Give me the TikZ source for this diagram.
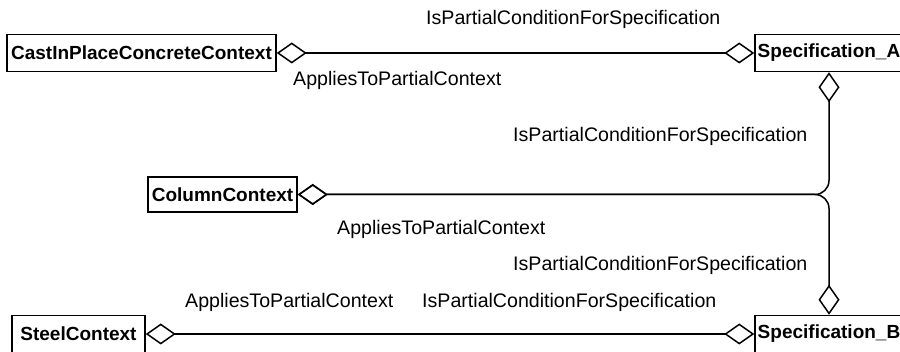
\documentclass[tikz,border=0pt]{standalone}
\usepackage{fontspec}
\setmainfont{Liberation Sans}
\usetikzlibrary{arrows.meta}

\tikzset{
  cls/.style={draw, line width=1.5pt, inner sep=0pt, minimum height=37pt,
    font=\fontsize{19}{23}\selectfont\bfseries},
  role/.style={anchor=base west, inner sep=0pt, font=\fontsize{19.6}{23}\selectfont},
  assoc/.style={draw, line width=1.5pt,
    {Diamond[open,length=30pt,width=21pt]}-{Diamond[open,length=30pt,width=21pt]}}
}

\begin{document}
\begin{tikzpicture}[x=1pt, y=-1pt]
\useasboundingbox (0,0) rectangle (900,352);

\node[cls, minimum width=269pt] (A) at (141.5,53) {CastInPlaceConcreteContext};
\node[cls, minimum width=148pt] (B) at (829,53) {Specification\_A};
\node[cls, minimum width=149pt, minimum height=35pt] (C) at (222.5,194.5) {ColumnContext};
\node[cls, minimum width=133pt] (D) at (78.5,334) {SteelContext};
\node[cls, minimum width=148pt, below of=B, node distance=281pt] (E) {Specification\_B};

\node[role] (F) at (426,25)  {IsPartialConditionForSpecification};
\node[role] (G) at (293,86)  {AppliesToPartialContext};
\node[role] (H) at (513,142) {IsPartialConditionForSpecification};
\node[role] (I) at (337,235) {AppliesToPartialContext};
\node[role] (J) at (513,271) {IsPartialConditionForSpecification};
\node[role] (K) at (185,308) {AppliesToPartialContext};
\node[role] (L) at (422,308) {IsPartialConditionForSpecification};

\foreach \s/\d in {A/B,D/E}
  \draw[assoc] (\s.east) -- (\d.west);
\draw[assoc, rounded corners=14pt] (C.east) -| (B.south);
\draw[assoc, rounded corners=14pt] (C.east) -| (E.north);

\end{tikzpicture}
\end{document}
